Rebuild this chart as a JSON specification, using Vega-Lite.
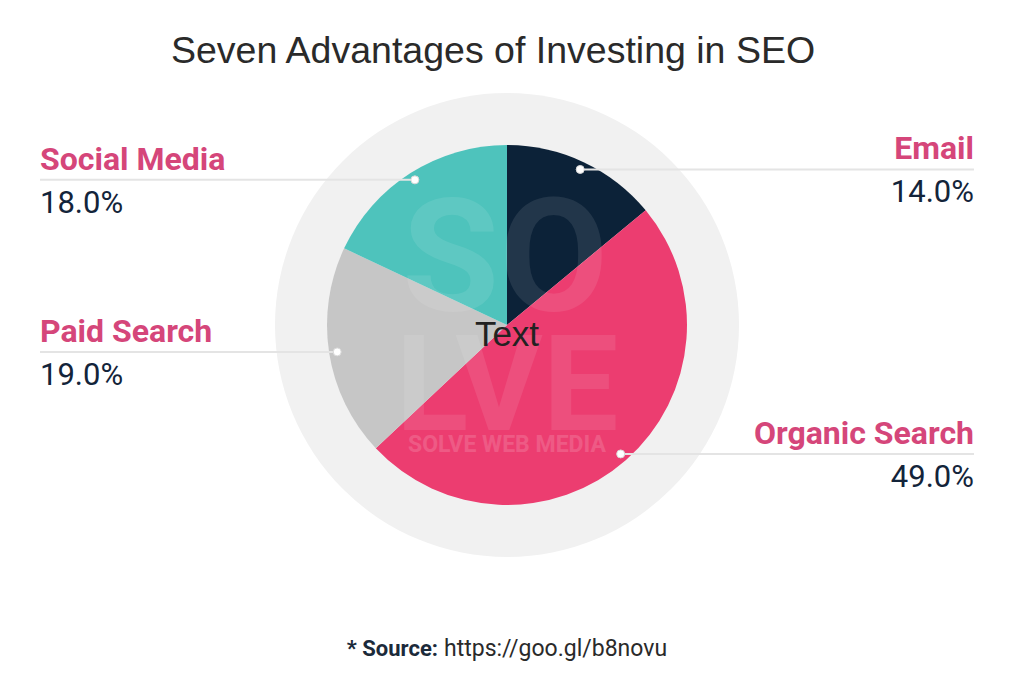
{
  "$schema": "https://vega.github.io/schema/vega-lite/v6.json",
  "width": 1014,
  "height": 675,
  "autosize": {"type": "fit", "contains": "padding"},
  "padding": 0,
  "background": "white",
  "config": {"view": {"stroke": null}},
  "data": {"values": [
    {"channel": "Email", "share": 0.14},
    {"channel": "Organic Search", "share": 0.49},
    {"channel": "Paid Search", "share": 0.19},
    {"channel": "Social Media", "share": 0.18}
  ]},
  "transform": [
    {"window": [{"op": "sum", "field": "share", "as": "cum"}], "sort": [{"field": "channel", "order": "ascending"}], "frame": [null, 0]},
    {"calculate": "datum.cum - datum.share", "as": "start"},
    {"calculate": "(datum.start + datum.share / 2) * 2 * PI", "as": "mid"},
    {"calculate": "0.955 * sin(datum.mid)", "as": "dotx"},
    {"calculate": "0.955 * cos(datum.mid)", "as": "doty"},
    {"calculate": "datum.dotx < 0 ? 'left' : 'right'", "as": "side"},
    {"calculate": "datum.dotx < 0 ? -2.5944 : 2.5944", "as": "labelx"}
  ],
  "layer": [
    {
      "data": {"values": [{"ring": "background"}]},
      "mark": {"type": "point", "shape": "circle", "filled": true, "size": 215296, "color": "#f1f1f1", "opacity": 1},
      "encoding": {
        "x": {"datum": 0, "type": "quantitative", "scale": {"domain": [-2.81667, 2.81667], "nice": false, "zero": false}, "axis": null},
        "y": {"datum": 0, "type": "quantitative", "scale": {"domain": [-1.94444, 1.80556], "nice": false, "zero": false}, "axis": null}
      }
    },
    {
      "mark": {"type": "arc", "outerRadius": 180, "strokeWidth": 0},
      "encoding": {
        "theta": {"field": "start", "type": "quantitative", "scale": {"domain": [0, 1], "range": [0, 6.283185307]}},
        "theta2": {"field": "cum"},
        "color": {"field": "channel", "type": "nominal", "scale": {"domain": ["Email", "Organic Search", "Paid Search", "Social Media"], "range": ["#0c2238", "#ec3d70", "#c6c6c6", "#4ec3bc"]}, "legend": null},
        "x": {"datum": 0, "type": "quantitative", "scale": {"domain": [-2.81667, 2.81667], "nice": false, "zero": false}, "axis": null},
        "y": {"datum": 0, "type": "quantitative", "scale": {"domain": [-1.94444, 1.80556], "nice": false, "zero": false}, "axis": null}
      }
    },
    {
      "data": {"values": [{"w": "SO"}]},
      "mark": {"type": "text", "font": "Roboto", "fontWeight": "bold", "fontSize": 158, "fill": "white", "opacity": 0.09, "align": "center", "baseline": "alphabetic"},
      "encoding": {
        "text": {"field": "w"},
        "x": {"datum": -0.011, "type": "quantitative", "scale": {"domain": [-2.81667, 2.81667], "nice": false, "zero": false}, "axis": null},
        "y": {"datum": 0.083, "type": "quantitative", "scale": {"domain": [-1.94444, 1.80556], "nice": false, "zero": false}, "axis": null}
      }
    },
    {
      "data": {"values": [{"w": "LVE"}]},
      "mark": {"type": "text", "font": "Roboto", "fontWeight": "bold", "fontSize": 134, "fill": "white", "opacity": 0.09, "align": "center", "baseline": "alphabetic"},
      "encoding": {
        "text": {"field": "w"},
        "x": {"datum": 0, "type": "quantitative", "scale": {"domain": [-2.81667, 2.81667], "nice": false, "zero": false}, "axis": null},
        "y": {"datum": -0.583, "type": "quantitative", "scale": {"domain": [-1.94444, 1.80556], "nice": false, "zero": false}, "axis": null}
      }
    },
    {
      "data": {"values": [{"w": "SOLVE WEB MEDIA"}]},
      "mark": {"type": "text", "font": "Roboto", "fontWeight": "bold", "fontSize": 23, "fill": "white", "opacity": 0.15, "align": "center", "baseline": "alphabetic"},
      "encoding": {
        "text": {"field": "w"},
        "x": {"datum": 0, "type": "quantitative", "scale": {"domain": [-2.81667, 2.81667], "nice": false, "zero": false}, "axis": null},
        "y": {"datum": -0.7056, "type": "quantitative", "scale": {"domain": [-1.94444, 1.80556], "nice": false, "zero": false}, "axis": null}
      }
    },
    {
      "mark": {"type": "rule", "color": "#e4e4e4", "strokeWidth": 2},
      "encoding": {
        "x": {"field": "labelx", "type": "quantitative", "scale": {"domain": [-2.81667, 2.81667], "nice": false, "zero": false}, "axis": null},
        "x2": {"field": "dotx"},
        "y": {"field": "doty", "type": "quantitative", "scale": {"domain": [-1.94444, 1.80556], "nice": false, "zero": false}, "axis": null}
      }
    },
    {
      "mark": {"type": "point", "shape": "circle", "filled": true, "size": 64, "fill": "white", "stroke": "#d8d8d8", "strokeWidth": 1, "opacity": 1},
      "encoding": {
        "x": {"field": "dotx", "type": "quantitative", "scale": {"domain": [-2.81667, 2.81667], "nice": false, "zero": false}, "axis": null},
        "y": {"field": "doty", "type": "quantitative", "scale": {"domain": [-1.94444, 1.80556], "nice": false, "zero": false}, "axis": null}
      }
    },
    {
      "transform": [{"filter": "datum.side == 'left'"}],
      "mark": {"type": "text", "font": "Roboto", "fontWeight": "bold", "fontSize": 32, "fill": "#d5467a", "align": "left", "baseline": "alphabetic", "dy": -10},
      "encoding": {
        "text": {"field": "channel"},
        "x": {"field": "labelx", "type": "quantitative", "scale": {"domain": [-2.81667, 2.81667], "nice": false, "zero": false}, "axis": null},
        "y": {"field": "doty", "type": "quantitative", "scale": {"domain": [-1.94444, 1.80556], "nice": false, "zero": false}, "axis": null}
      }
    },
    {
      "transform": [{"filter": "datum.side == 'right'"}],
      "mark": {"type": "text", "font": "Roboto", "fontWeight": "bold", "fontSize": 32, "fill": "#d5467a", "align": "right", "baseline": "alphabetic", "dy": -10},
      "encoding": {
        "text": {"field": "channel"},
        "x": {"field": "labelx", "type": "quantitative", "scale": {"domain": [-2.81667, 2.81667], "nice": false, "zero": false}, "axis": null},
        "y": {"field": "doty", "type": "quantitative", "scale": {"domain": [-1.94444, 1.80556], "nice": false, "zero": false}, "axis": null}
      }
    },
    {
      "transform": [{"filter": "datum.side == 'left'"}],
      "mark": {"type": "text", "font": "Roboto", "fontWeight": 400, "fontSize": 31, "fill": "#13243a", "align": "left", "baseline": "alphabetic", "dy": 33},
      "encoding": {
        "text": {"field": "share", "type": "quantitative", "format": ".1%"},
        "x": {"field": "labelx", "type": "quantitative", "scale": {"domain": [-2.81667, 2.81667], "nice": false, "zero": false}, "axis": null},
        "y": {"field": "doty", "type": "quantitative", "scale": {"domain": [-1.94444, 1.80556], "nice": false, "zero": false}, "axis": null}
      }
    },
    {
      "transform": [{"filter": "datum.side == 'right'"}],
      "mark": {"type": "text", "font": "Roboto", "fontWeight": 400, "fontSize": 31, "fill": "#13243a", "align": "right", "baseline": "alphabetic", "dy": 33},
      "encoding": {
        "text": {"field": "share", "type": "quantitative", "format": ".1%"},
        "x": {"field": "labelx", "type": "quantitative", "scale": {"domain": [-2.81667, 2.81667], "nice": false, "zero": false}, "axis": null},
        "y": {"field": "doty", "type": "quantitative", "scale": {"domain": [-1.94444, 1.80556], "nice": false, "zero": false}, "axis": null}
      }
    },
    {
      "data": {"values": [{"t": "Text"}]},
      "mark": {"type": "text", "font": "Liberation Sans", "fontSize": 35, "fill": "#222222", "align": "center", "baseline": "middle"},
      "encoding": {
        "text": {"field": "t"},
        "x": {"datum": 0, "type": "quantitative", "scale": {"domain": [-2.81667, 2.81667], "nice": false, "zero": false}, "axis": null},
        "y": {"datum": -0.0556, "type": "quantitative", "scale": {"domain": [-1.94444, 1.80556], "nice": false, "zero": false}, "axis": null}
      }
    },
    {
      "data": {"values": [{"t": "Seven Advantages of Investing in SEO"}]},
      "mark": {"type": "text", "font": "Liberation Sans", "fontSize": 37.5, "fill": "#2a2a2a", "align": "center", "baseline": "alphabetic"},
      "encoding": {
        "text": {"field": "t"},
        "x": {"datum": -0.0778, "type": "quantitative", "scale": {"domain": [-2.81667, 2.81667], "nice": false, "zero": false}, "axis": null},
        "y": {"datum": 1.4556, "type": "quantitative", "scale": {"domain": [-1.94444, 1.80556], "nice": false, "zero": false}, "axis": null}
      }
    },
    {
      "data": {"values": [{"t": "* Source:"}]},
      "mark": {"type": "text", "font": "Roboto", "fontWeight": "bold", "fontSize": 22, "fill": "#1b2a3a", "align": "right", "baseline": "alphabetic"},
      "encoding": {
        "text": {"field": "t"},
        "x": {"datum": -0.3833, "type": "quantitative", "scale": {"domain": [-2.81667, 2.81667], "nice": false, "zero": false}, "axis": null},
        "y": {"datum": -1.8389, "type": "quantitative", "scale": {"domain": [-1.94444, 1.80556], "nice": false, "zero": false}, "axis": null}
      }
    },
    {
      "data": {"values": [{"t": "https://goo.gl/b8novu"}]},
      "mark": {"type": "text", "font": "Roboto", "fontSize": 23, "fill": "#2a2a2a", "align": "left", "baseline": "alphabetic"},
      "encoding": {
        "text": {"field": "t"},
        "x": {"datum": -0.35, "type": "quantitative", "scale": {"domain": [-2.81667, 2.81667], "nice": false, "zero": false}, "axis": null},
        "y": {"datum": -1.8389, "type": "quantitative", "scale": {"domain": [-1.94444, 1.80556], "nice": false, "zero": false}, "axis": null}
      }
    }
  ]
}
